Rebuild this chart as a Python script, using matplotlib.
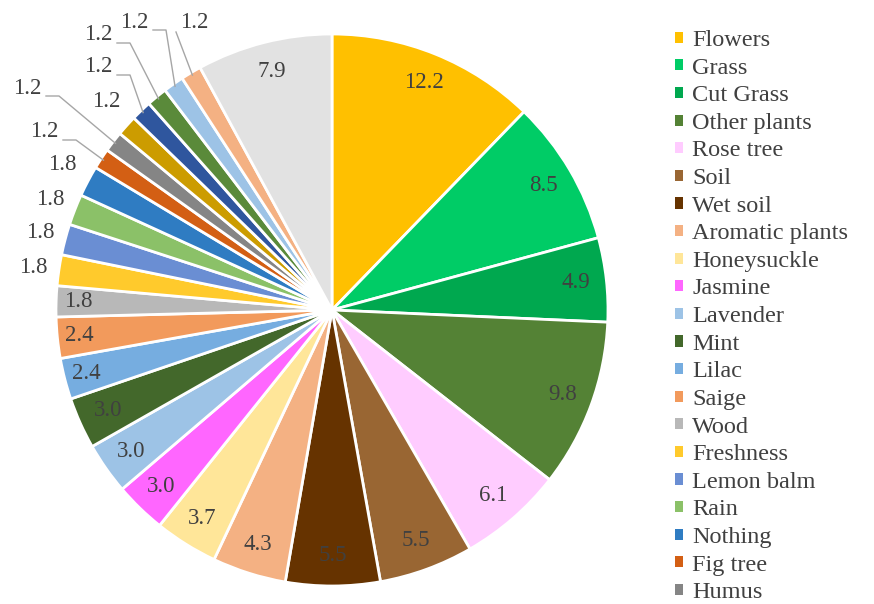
import matplotlib.pyplot as plt
from matplotlib.patches import Patch
import numpy as np

plt.rcParams['font.family'] = ['Liberation Serif', 'DejaVu Serif']

# share of answers (%), clockwise from 12 o'clock
values = [12.2, 8.5, 4.9, 9.8, 6.1, 5.5, 5.5, 4.3, 3.7, 3.0, 3.0, 3.0, 2.4, 2.4,
          1.8, 1.8, 1.8, 1.8, 1.8, 1.2, 1.2, 1.2, 1.2, 1.2, 1.2, 1.2, 7.9]
# legend is cut off after "Humus" in the original
legend_names = ['Flowers', 'Grass', 'Cut Grass', 'Other plants', 'Rose tree', 'Soil',
                'Wet soil', 'Aromatic plants', 'Honeysuckle', 'Jasmine', 'Lavender',
                'Mint', 'Lilac', 'Saige', 'Wood', 'Freshness', 'Lemon balm', 'Rain',
                'Nothing', 'Fig tree', 'Humus']
colors = ['#FFC000', '#00CC66', '#00A84F', '#548235', '#FFCCFF', '#996633',
          '#663300', '#F4B183', '#FFE699', '#FF66FF', '#9DC3E6', '#43682B',
          '#76ADE0', '#F29A5C', '#B8B8B8', '#FFCA2C', '#6A8ED3', '#8BC168',
          '#2F7CC2', '#D35F14', '#858585', '#CC9C00', '#2F569E', '#5A8A3A',
          '#9DC3E6', '#F4B183', '#E2E2E2']

# labels of thin slices sit outside the pie: slice index -> (x, y) pixel centre, leader kind
# leader kind: 0 none, 1 horizontal stub to the right, 2 from lower left corner
outside = {15: ((33, 268), 0), 16: ((40, 233), 0), 17: ((50, 200), 0), 18: ((62, 165), 0),
           19: ((44, 132), 1), 20: ((27, 88), 1), 21: ((106, 102), 0), 22: ((98, 67), 1),
           23: ((98, 35), 1), 24: ((134, 22), 1), 25: ((194, 23), 2)}

W, H = 874, 604
CX, CY, R = 332, 310, 276

fig = plt.figure(figsize=(W / 100, H / 100), dpi=100)
ax = fig.add_axes([0, 0, 1, 1])

wedges, _ = ax.pie(values, colors=colors, startangle=90, counterclock=False,
                   radius=1, wedgeprops=dict(edgecolor='white', linewidth=2))
ax.set_xlim(-CX / R, (W - CX) / R)
ax.set_ylim(-(H - CY) / R, CY / R)
ax.set_aspect('equal')
ax.axis('off')


def to_data(px, py):
    return (px - CX) / R, (CY - py) / R


for i, (w, v) in enumerate(zip(wedges, values)):
    ang = np.deg2rad((w.theta1 + w.theta2) / 2)
    txt = f'{v:.1f}'
    if i not in outside:
        r = 0.89 if v >= 3 else 0.92
        ax.text(r * np.cos(ang), r * np.sin(ang), txt, ha='center', va='center',
                fontsize=16.5, color='#404040')
        continue
    (px, py), kind = outside[i]
    ax.text(*to_data(px, py), txt, ha='center', va='center', fontsize=16.5, color='#404040')
    if kind:
        ex, ey = 0.99 * np.cos(ang), 0.99 * np.sin(ang)
        if kind == 1:
            pts = [to_data(px + 19, py + 8), to_data(px + 32, py + 8), (ex, ey)]
        else:
            pts = [to_data(px - 18, py + 9), (ex, ey)]
        xs, ys = zip(*pts)
        ax.plot(xs, ys, color='#A6A6A6', lw=1)

handles = [Patch(facecolor=c, edgecolor='none') for c in colors[:len(legend_names)]]
fig.legend(handles, legend_names, loc='upper left', bbox_to_anchor=(675 / W, 1 - 30 / H),
           frameon=False, fontsize=17.5, handlelength=0.33, handleheight=0.33,
           handletextpad=0.37, labelspacing=0.272, borderpad=0, borderaxespad=0,
           labelcolor='#404040')

fig.savefig('out.png', dpi=100)
